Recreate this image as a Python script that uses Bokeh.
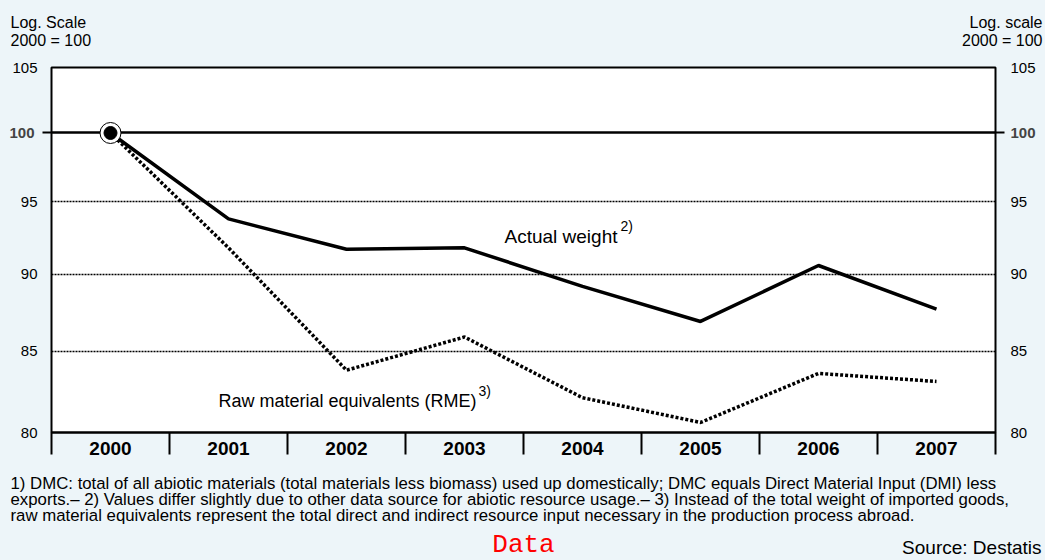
import math
from bokeh.plotting import figure
from bokeh.models import (Range1d, FixedTicker, LogAxis, LinearAxis, Label, Grid,
                          BasicTickFormatter, GlobalInlineStyleSheet)
from bokeh.embed import file_html
from bokeh.resources import INLINE

# ---------------- data ----------------
years = [2000, 2001, 2002, 2003, 2004, 2005, 2006, 2007]
actual_weight = [100, 93.8, 91.7, 91.8, 89.2, 86.9, 90.6, 87.7]
rme = [100, 91.8, 83.8, 85.9, 82.1, 80.6, 83.6, 83.1]
y_ticks = [80, 85, 90, 95, 100, 105]
grid_ticks = [85, 90, 95]
base_tick = [100]
bin_edges = [1999.5, 2000.5, 2001.5, 2002.5, 2003.5, 2004.5, 2005.5, 2006.5, 2007.5]
footnotes = [
    "1) DMC: total of all abiotic materials (total materials less biomass) used up domestically; DMC equals Direct Material Input (DMI) less",
    "exports.\u2013 2) Values differ slightly due to other data source for abiotic resource usage.\u2013 3) Instead of the total weight of imported goods,",
    "raw material equivalents represent the total direct and indirect resource input necessary in the production process abroad.",
]

BG = "#EDF5F9"
FONT = "Liberation Sans"
W, H = 1045, 560
# plot box placement on the canvas (pixels)
FL, FR, FT, FB = 51, 995, 67, 432
X0, X1 = bin_edges[0], bin_edges[-1]
Y0, Y1 = y_ticks[0], y_ticks[-1]

# ranges chosen so that the plot box lands on the pixels above, frame = whole canvas
kx = (X1 - X0) / (FR - FL)
ky = math.log(Y1 / Y0) / (FB - FT)
x_range = Range1d(X0 - FL * kx, X1 + (W - FR) * kx)
y_range = Range1d(math.exp(math.log(Y0) - (H - FB) * ky), math.exp(math.log(Y1) + FT * ky))

p = figure(width=W, height=H, y_axis_type="log", x_range=x_range, y_range=y_range,
           x_axis_location=None, y_axis_location=None,
           output_backend="svg", toolbar_location=None,
           min_border=0, background_fill_color=BG, border_fill_color=BG)
p.stylesheets = [GlobalInlineStyleSheet(css="html, body { background-color: %s; }" % BG)]
p.outline_line_color = None
p.grid.visible = False

# white plot box
p.quad(left=[X0], right=[X1], bottom=[Y0], top=[Y1], fill_color="white",
       line_color=None, level="image")

# grid lines (dotted) and the base line at 100 (solid)
has_cb = "cross_bounds" in Grid.properties()
def add_grid(ticks, dash, width):
    if has_cb:
        g = Grid(dimension=1, ticker=FixedTicker(ticks=ticks), cross_bounds=(X0, X1),
                 grid_line_color="black", grid_line_dash=dash, grid_line_width=width)
        p.add_layout(g)
    else:
        p.segment(x0=[X0] * len(ticks), x1=[X1] * len(ticks), y0=ticks, y1=ticks,
                  line_color="black", line_dash=dash, line_width=width)
add_grid(grid_ticks, "2 1", 1.5)
add_grid(base_tick, "solid", 2.5)

# frame outline
p.quad(left=[X0], right=[X1], bottom=[Y0], top=[Y1], fill_color=None,
       line_color="black", line_width=2)

# x axis
xa = LinearAxis(fixed_location=Y0, bounds=(X0, X1))
xa.ticker = FixedTicker(ticks=years, minor_ticks=bin_edges)
xa.formatter = BasicTickFormatter(use_scientific=False)
xa.major_tick_line_color = None
xa.minor_tick_in = 0
xa.minor_tick_out = 22
xa.minor_tick_line_width = 2
xa.minor_tick_line_color = "black"
xa.axis_line_color = "black"
xa.axis_line_width = 2
xa.major_label_text_font = FONT
xa.major_label_text_font_size = "19px"
xa.major_label_text_font_style = "bold"
xa.major_label_text_color = "black"
xa.major_label_standoff = -13
p.add_layout(xa, "below")

def make_y(loc, standoff):
    ax = LogAxis(fixed_location=loc, bounds=(Y0, Y1))
    ax.ticker = FixedTicker(ticks=y_ticks, minor_ticks=base_tick)
    ax.formatter = BasicTickFormatter(use_scientific=False)
    ax.major_label_overrides = {100: ""}
    ax.major_tick_line_color = None
    ax.minor_tick_in = 0
    ax.minor_tick_out = 9
    ax.minor_tick_line_width = 2
    ax.minor_tick_line_color = "black"
    ax.axis_line_color = None
    ax.major_label_text_font = FONT
    ax.major_label_text_font_size = "15px"
    ax.major_label_text_color = "black"
    ax.major_label_standoff = standoff
    return ax

p.add_layout(make_y(X0, 5), "left")
p.add_layout(make_y(X1, 6), "right")

# series
p.line(years, actual_weight, line_color="black", line_width=3.5)
p.line(years, rme, line_color="black", line_width=3.5, line_dash="3 2")
p.scatter([years[0]], [actual_weight[0]], size=21, fill_color="white",
          line_color="black", line_width=1)
p.scatter([years[0]], [actual_weight[0]], size=13, fill_color="black", line_color="black")

DY = 7  # measured rendering shift of baseline-placed labels

def lab(px, py, text, size, align="left", style="normal", color="black", font=FONT):
    """Place a text by canvas pixel position (frame = whole canvas, y from bottom)."""
    p.add_layout(Label(x=px, y=H - py + DY, x_units="screen", y_units="screen",
                       text=text, text_font=font, text_font_size=size,
                       text_align=align, text_font_style=style, text_color=color,
                       text_baseline="alphabetic"))

# bold 100 tick labels (axis labels for 100 are blanked above)
for xloc, off, al in ((X0, -17, "right"), (X1, 15, "left")):
    p.add_layout(Label(x=xloc, y=100, text="100", text_font=FONT, text_font_size="15px",
                       text_font_style="bold", text_align=al, text_baseline="middle",
                       x_offset=off))

# axis titles
lab(10, 29, "Log. Scale", "16px")
lab(10, 47, "2000 = 100", "16px")
lab(1042, 29, "Log. scale", "16px", align="right")
lab(1042, 47, "2000 = 100", "16px", align="right")

# series labels
lab(504, 243, "Actual weight", "19px")
lab(620, 232, "2)", "14px")
lab(218, 407, "Raw material equivalents (RME)", "18px")
lab(478, 397, "3)", "14px")

# footnotes
for i, t in enumerate(footnotes):
    lab(10, 490 + 16 * i, t, "16.8px")

lab(523, 551, "Data", "26px", align="center", color="red", font="Liberation Mono")
lab(1041, 554, "Source: Destatis", "19px", align="right")

open("out.html", "w").write(file_html(p, INLINE))
